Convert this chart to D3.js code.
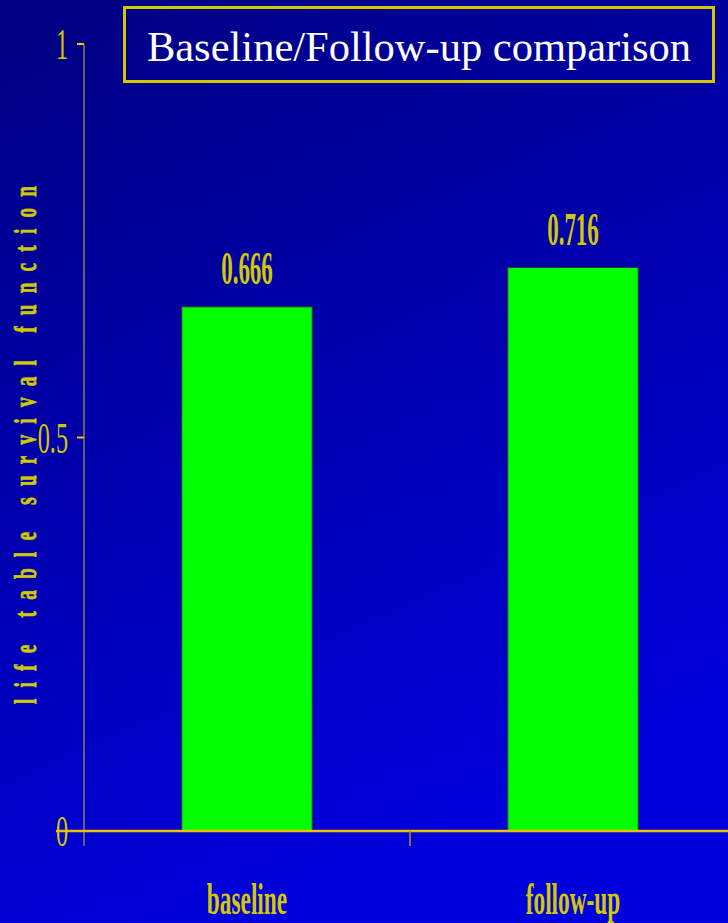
<!DOCTYPE html>
<html>
<head>
<meta charset="utf-8">
<script src="https://cdn.jsdelivr.net/npm/d3@7"></script>
<style>
  html, body { margin: 0; padding: 0; background: #000080; }
  svg { display: block; }
</style>
</head>
<body>
<svg id="chart" width="728" height="923"></svg>
<script>
// Survival function at baseline and at follow-up
const categories = ["baseline", "follow-up"];
const survival = [0.666, 0.716];
const valueLabels = ["0.666", "0.716"];
const yTicks = [0, 0.5, 1];
const yTickLabels = ["0", "0.5", "1"];
const titleText = "Baseline/Follow-up comparison";
const yAxisTitle = "life table survival function";

const W = 728, H = 923;
const svg = d3.select("#chart");

// Background: dark navy fading to bright blue toward the bottom right
const defs = svg.append("defs");
const grad = defs.append("linearGradient")
  .attr("id", "bg").attr("x1", 0).attr("y1", 0).attr("x2", 0.35).attr("y2", 1);
grad.append("stop").attr("offset", 0).attr("stop-color", "#000080");
grad.append("stop").attr("offset", 1).attr("stop-color", "#0000dc");
svg.append("rect").attr("width", W).attr("height", H).attr("fill", "url(#bg)");

const plotLeft = 84, plotRight = 736, plotTop = 44, zeroY = 831;
const y = d3.scaleLinear().domain([0, 1]).range([zeroY, plotTop]);
const x = d3.scaleBand().domain(categories).range([plotLeft, plotRight]).padding(0);
const barW = x.bandwidth() * 0.4;

const serif = "'Liberation Serif', 'Times New Roman', serif";
const yellow = "#d2c800";

// Condensed text: draw at (px,py) squeezed horizontally
function squeezed(g, px, py, txt, size, sx, weight, fill, anchor) {
  return g.append("text")
    .attr("transform", `translate(${px},${py}) scale(${sx},1)`)
    .attr("text-anchor", anchor || "middle")
    .attr("font-family", serif)
    .attr("font-size", size)
    .attr("font-weight", weight)
    .attr("fill", fill)
    .text(txt);
}

// Bars
svg.append("g").selectAll("rect").data(categories).join("rect")
  .attr("x", d => x(d) + x.bandwidth() / 2 - barW / 2)
  .attr("y", (d, i) => y(survival[i]))
  .attr("width", barW)
  .attr("height", (d, i) => zeroY - y(survival[i]))
  .attr("fill", "#00ff00")
  .attr("stroke", "#3a3a28")
  .attr("stroke-width", 1);

// Value labels above bars
const vl = svg.append("g");
categories.forEach((c, i) => {
  squeezed(vl, x(c) + x.bandwidth() / 2, y(survival[i]) - 23, valueLabels[i], 46, 0.5, "bold", yellow);
});

// Y axis line
svg.append("line")
  .attr("x1", plotLeft).attr("x2", plotLeft)
  .attr("y1", y(1)).attr("y2", zeroY + 15)
  .attr("stroke", "#8c7c58").attr("stroke-width", 1.5);

// Y ticks and labels
const yt = svg.append("g");
yTicks.forEach((t, i) => {
  if (t > 0) {
    yt.append("line")
      .attr("x1", plotLeft - 7).attr("x2", plotLeft)
      .attr("y1", y(t)).attr("y2", y(t))
      .attr("stroke", "#f0c000").attr("stroke-width", 2);
  }
  squeezed(yt, 68, y(t) + 15, yTickLabels[i], 44, 0.55, "normal", yellow, "end");
});

// X axis (zero line) with the category divider tick
svg.append("line")
  .attr("x1", 56).attr("x2", W)
  .attr("y1", zeroY).attr("y2", zeroY)
  .attr("stroke", "#f0c000").attr("stroke-width", 2.5);
svg.append("line")
  .attr("x1", x(categories[1])).attr("x2", x(categories[1]))
  .attr("y1", zeroY).attr("y2", zeroY + 15)
  .attr("stroke", "#c09018").attr("stroke-width", 1.5);

// Category labels
const xl = svg.append("g");
categories.forEach(c => {
  squeezed(xl, x(c) + x.bandwidth() / 2, 914, c, 44, 0.53, "bold", yellow);
});

// Y axis title, rotated, narrow glyphs spread along the axis
const titleSpan = 518, titleSqueeze = 0.6;
svg.append("text")
  .attr("transform", `translate(36,445) rotate(-90) scale(${titleSqueeze},1)`)
  .attr("text-anchor", "middle")
  .attr("font-family", serif)
  .attr("font-size", 32)
  .attr("font-weight", "bold")
  .attr("textLength", titleSpan / titleSqueeze)
  .attr("lengthAdjust", "spacing")
  .attr("fill", yellow)
  .attr("stroke", yellow)
  .attr("stroke-width", 0.8)
  .text(yAxisTitle);

// Title box
svg.append("rect")
  .attr("x", 124.5).attr("y", 7.5).attr("width", 589).attr("height", 74)
  .attr("fill", "none")
  .attr("stroke", yellow).attr("stroke-width", 3);
svg.append("text")
  .attr("x", 419).attr("y", 61)
  .attr("text-anchor", "middle")
  .attr("font-family", serif)
  .attr("font-size", 42.5)
  .attr("fill", "#ffffff")
  .text(titleText);
</script>
</body>
</html>
